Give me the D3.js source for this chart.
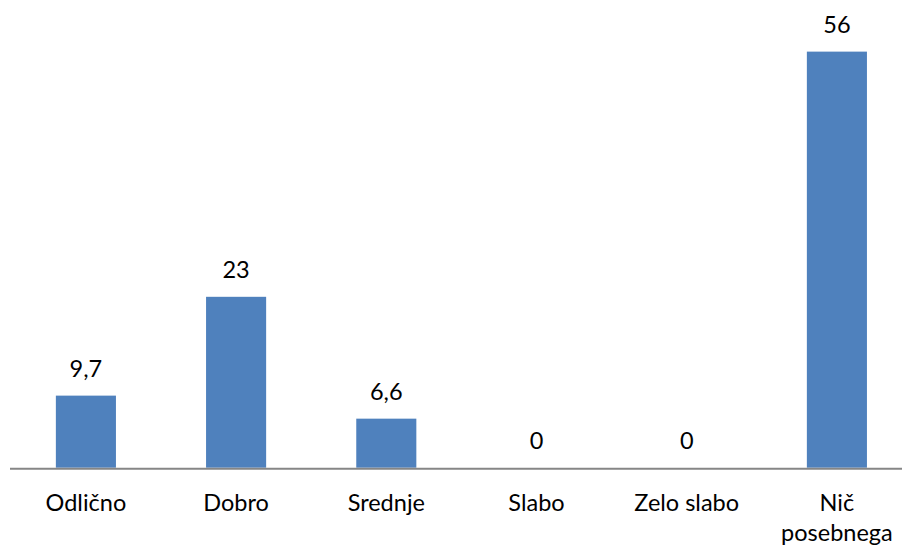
<!DOCTYPE html>
<html><head><meta charset="utf-8">
<script src="https://cdn.jsdelivr.net/npm/d3@7"></script>
<style>html,body{margin:0;padding:0;background:#fff;}svg{display:block;}</style>
</head><body>
<svg id="c" width="902" height="548"></svg>
<script>
const categories = ["Odlično", "Dobro", "Srednje", "Slabo", "Zelo slabo", "Nič posebnega"];
const values = [9.7, 23, 6.6, 0, 0, 56];
const valueLabels = ["9,7", "23", "6,6", "0", "0", "56"];
const categoryLines = [["Odlično"], ["Dobro"], ["Srednje"], ["Slabo"], ["Zelo slabo"], ["Nič", "posebnega"]];

const svg = d3.select("#c");
const font = "Lato, 'Open Sans', sans-serif";
const y0 = 467.7;
const x = d3.scaleBand().domain(categories).range([10.8, 912]).paddingInner(0.6).paddingOuter(0.3);
const y = d3.scaleLinear().domain([0, 60]).range([y0, y0 - 60 * 7.43]);

svg.selectAll("rect.bar").data(values).join("rect")
  .attr("class", "bar")
  .attr("x", (d, i) => x(categories[i]))
  .attr("width", x.bandwidth())
  .attr("y", d => y(d))
  .attr("height", d => y(0) - y(d))
  .attr("fill", "#4F81BD");

svg.append("line")
  .attr("x1", 10).attr("x2", 902)
  .attr("y1", y0 + 1).attr("y2", y0 + 1)
  .attr("stroke", "#868686").attr("stroke-width", 2);

svg.selectAll("text.val").data(values).join("text")
  .attr("class", "val")
  .attr("x", (d, i) => x(categories[i]) + x.bandwidth() / 2)
  .attr("y", d => y(d) - 18.5)
  .attr("text-anchor", "middle")
  .attr("font-family", font).attr("font-size", 23.5).attr("fill", "#000")
  .text((d, i) => valueLabels[i]);

const cg = svg.selectAll("text.cat").data(categories).join("text")
  .attr("class", "cat")
  .attr("text-anchor", "middle")
  .attr("font-family", font).attr("font-size", 23.5).attr("fill", "#000");
cg.each(function(d, i) {
  const t = d3.select(this);
  categoryLines[i].forEach((ln, k) => {
    t.append("tspan")
      .attr("x", x(d) + x.bandwidth() / 2)
      .attr("y", 511 + k * 30)
      .text(ln);
  });
});
</script>
</body></html>
